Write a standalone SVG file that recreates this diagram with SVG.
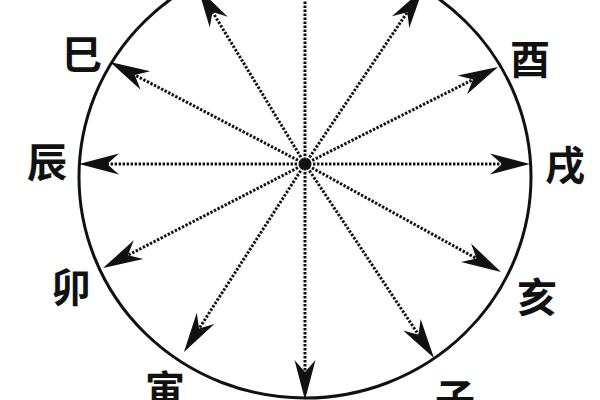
<svg xmlns="http://www.w3.org/2000/svg" width="600" height="400" viewBox="0 0 600 400">
<style>
.lbl{font-family:"Noto Sans CJK SC","Noto Sans CJK JP",sans-serif;font-size:40px;font-weight:bold;fill:#111;text-anchor:middle;dominant-baseline:central}
.ray{stroke:#111;stroke-width:3;stroke-dasharray:2.4 1.6;fill:none;marker-end:url(#ah)}
</style>
<defs>
<marker id="ah" markerUnits="userSpaceOnUse" viewBox="-13 -12 42 24" markerWidth="42" markerHeight="24" refX="0" refY="0" orient="auto">
<path d="M28,0 L-12,-10.5 L0,0 L-12,10.5 Z" fill="#111"/>
</marker>
</defs>
<rect width="600" height="400" fill="#fff"/>
<g id="circle"><ellipse cx="305" cy="177" rx="226" ry="221" fill="none" stroke="#111" stroke-width="3"/></g>
<g id="connectors">
<line class="ray" x1="305" y1="164" x2="107" y2="164"/>
<line class="ray" x1="305" y1="164" x2="502" y2="164"/>
<line class="ray" x1="305" y1="164" x2="305" y2="-22"/>
<line class="ray" x1="305" y1="164" x2="305" y2="372"/>
<line class="ray" x1="305" y1="164" x2="134.8" y2="75"/>
<line class="ray" x1="305" y1="164" x2="473" y2="79.6"/>
<line class="ray" x1="305" y1="164" x2="212.5" y2="11.9"/>
<line class="ray" x1="305" y1="164" x2="407.3" y2="12.2"/>
<line class="ray" x1="305" y1="164" x2="127.9" y2="255.2"/>
<line class="ray" x1="305" y1="164" x2="476.5" y2="258.5"/>
<line class="ray" x1="305" y1="164" x2="199.1" y2="328.5"/>
<line class="ray" x1="305" y1="164" x2="418.5" y2="334.7"/>
<circle cx="305" cy="164" r="5" fill="#111"/>
</g>
<g id="si"><text class="lbl" x="82" y="52">巳</text></g>
<g id="chen"><text class="lbl" x="47" y="160">辰</text></g>
<g id="mao"><text class="lbl" x="71" y="285">卯</text></g>
<g id="yin"><text class="lbl" x="165" y="388">寅</text></g>
<g id="zi"><text class="lbl" x="455" y="396">子</text></g>
<g id="hai"><text class="lbl" x="537" y="295">亥</text></g>
<g id="xu"><text class="lbl" x="565" y="163">戌</text></g>
<g id="you"><text class="lbl" x="530" y="57">酉</text></g>
</svg>
